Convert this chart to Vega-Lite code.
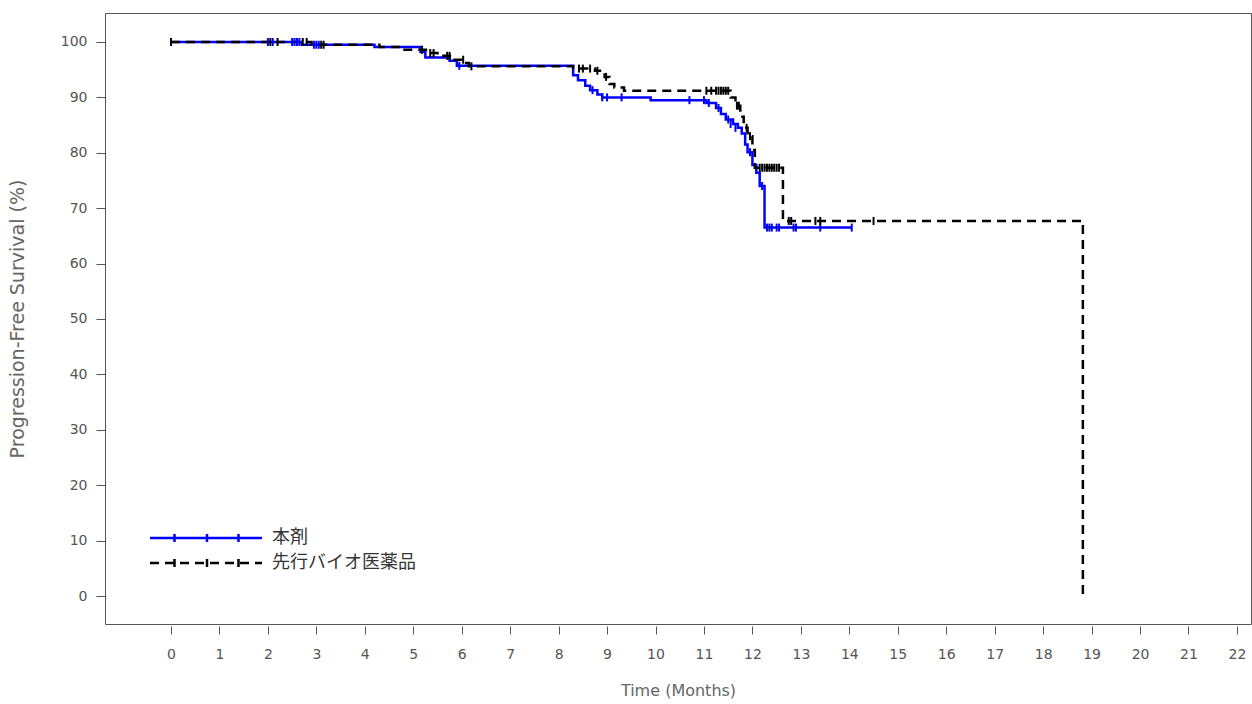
{
  "$schema": "https://vega.github.io/schema/vega-lite/v6.json",
  "width": 1146,
  "height": 611,
  "autosize": "none",
  "padding": {"left": 105, "top": 13, "right": 1, "bottom": 80},
  "background": "white",
  "config": {
    "view": {"stroke": "#555555", "strokeWidth": 1},
    "axis": {"grid": false, "domain": false, "tickColor": "#555555", "labelColor": "#555555", "titleColor": "#666666", "titleFontWeight": "normal"}
  },
  "datasets": {
    "steps": [
      {"group": "本剤", "t": 0, "s": 100},
      {"group": "本剤", "t": 2.7, "s": 99.5},
      {"group": "本剤", "t": 4.2, "s": 99.1},
      {"group": "本剤", "t": 5.15, "s": 98.2},
      {"group": "本剤", "t": 5.25, "s": 97.2},
      {"group": "本剤", "t": 5.75, "s": 96.6},
      {"group": "本剤", "t": 5.9, "s": 95.7},
      {"group": "本剤", "t": 8.3, "s": 94.0},
      {"group": "本剤", "t": 8.4, "s": 93.1},
      {"group": "本剤", "t": 8.55, "s": 92.1},
      {"group": "本剤", "t": 8.65, "s": 91.3},
      {"group": "本剤", "t": 8.8, "s": 90.5},
      {"group": "本剤", "t": 8.9, "s": 90.0},
      {"group": "本剤", "t": 9.9, "s": 89.5},
      {"group": "本剤", "t": 11.05, "s": 89.0},
      {"group": "本剤", "t": 11.25, "s": 88.1},
      {"group": "本剤", "t": 11.35, "s": 87.0},
      {"group": "本剤", "t": 11.45, "s": 86.0},
      {"group": "本剤", "t": 11.6, "s": 85.2},
      {"group": "本剤", "t": 11.7, "s": 84.5},
      {"group": "本剤", "t": 11.78, "s": 83.5},
      {"group": "本剤", "t": 11.85, "s": 81.5},
      {"group": "本剤", "t": 11.9, "s": 80.1},
      {"group": "本剤", "t": 12.0, "s": 77.8},
      {"group": "本剤", "t": 12.08, "s": 76.4},
      {"group": "本剤", "t": 12.15, "s": 74.0},
      {"group": "本剤", "t": 12.25, "s": 66.5},
      {"group": "本剤", "t": 14.05, "s": 66.5},
      {"group": "先行バイオ医薬品", "t": 0, "s": 100},
      {"group": "先行バイオ医薬品", "t": 2.9, "s": 99.5},
      {"group": "先行バイオ医薬品", "t": 4.3, "s": 99.1},
      {"group": "先行バイオ医薬品", "t": 4.75, "s": 98.6},
      {"group": "先行バイオ医薬品", "t": 5.3, "s": 98.0},
      {"group": "先行バイオ医薬品", "t": 5.5, "s": 97.5},
      {"group": "先行バイオ医薬品", "t": 5.8, "s": 96.8},
      {"group": "先行バイオ医薬品", "t": 6.0, "s": 96.2},
      {"group": "先行バイオ医薬品", "t": 6.15, "s": 95.6},
      {"group": "先行バイオ医薬品", "t": 8.3, "s": 95.2},
      {"group": "先行バイオ医薬品", "t": 8.75, "s": 94.8},
      {"group": "先行バイオ医薬品", "t": 8.95, "s": 93.7},
      {"group": "先行バイオ医薬品", "t": 9.05, "s": 92.4},
      {"group": "先行バイオ医薬品", "t": 9.15, "s": 91.8},
      {"group": "先行バイオ医薬品", "t": 9.35, "s": 91.2},
      {"group": "先行バイオ医薬品", "t": 11.55, "s": 90.0},
      {"group": "先行バイオ医薬品", "t": 11.65, "s": 88.5},
      {"group": "先行バイオ医薬品", "t": 11.75, "s": 86.5},
      {"group": "先行バイオ医薬品", "t": 11.82, "s": 84.5},
      {"group": "先行バイオ医薬品", "t": 11.9, "s": 83.0},
      {"group": "先行バイオ医薬品", "t": 12.0, "s": 80.5},
      {"group": "先行バイオ医薬品", "t": 12.05, "s": 77.3},
      {"group": "先行バイオ医薬品", "t": 12.63, "s": 67.7},
      {"group": "先行バイオ医薬品", "t": 18.82, "s": 67.7},
      {"group": "先行バイオ医薬品", "t": 18.82, "s": 0}
    ],
    "censors": [
      {"group": "本剤", "t": 2.0, "s": 100},
      {"group": "本剤", "t": 2.1, "s": 100},
      {"group": "本剤", "t": 2.5, "s": 100},
      {"group": "本剤", "t": 2.55, "s": 100},
      {"group": "本剤", "t": 2.6, "s": 100},
      {"group": "本剤", "t": 2.65, "s": 100},
      {"group": "本剤", "t": 2.95, "s": 99.5},
      {"group": "本剤", "t": 3.0, "s": 99.5},
      {"group": "本剤", "t": 3.05, "s": 99.5},
      {"group": "本剤", "t": 5.95, "s": 95.7},
      {"group": "本剤", "t": 8.7, "s": 91.3},
      {"group": "本剤", "t": 8.9, "s": 90.0},
      {"group": "本剤", "t": 9.0, "s": 90.0},
      {"group": "本剤", "t": 9.3, "s": 90.0},
      {"group": "本剤", "t": 10.7, "s": 89.5},
      {"group": "本剤", "t": 11.0, "s": 89.5},
      {"group": "本剤", "t": 11.1, "s": 89.0},
      {"group": "本剤", "t": 11.3, "s": 88.1},
      {"group": "本剤", "t": 11.5, "s": 86.0},
      {"group": "本剤", "t": 11.55, "s": 85.2},
      {"group": "本剤", "t": 11.65, "s": 84.5},
      {"group": "本剤", "t": 11.95, "s": 80.1},
      {"group": "本剤", "t": 12.2, "s": 74.0},
      {"group": "本剤", "t": 12.3, "s": 66.5},
      {"group": "本剤", "t": 12.35, "s": 66.5},
      {"group": "本剤", "t": 12.4, "s": 66.5},
      {"group": "本剤", "t": 12.5, "s": 66.5},
      {"group": "本剤", "t": 12.55, "s": 66.5},
      {"group": "本剤", "t": 12.85, "s": 66.5},
      {"group": "本剤", "t": 12.9, "s": 66.5},
      {"group": "本剤", "t": 13.4, "s": 66.5},
      {"group": "本剤", "t": 14.05, "s": 66.5},
      {"group": "先行バイオ医薬品", "t": 0, "s": 100},
      {"group": "先行バイオ医薬品", "t": 2.05, "s": 100},
      {"group": "先行バイオ医薬品", "t": 2.2, "s": 100},
      {"group": "先行バイオ医薬品", "t": 2.72, "s": 100},
      {"group": "先行バイオ医薬品", "t": 2.8, "s": 100},
      {"group": "先行バイオ医薬品", "t": 3.1, "s": 99.5},
      {"group": "先行バイオ医薬品", "t": 3.15, "s": 99.5},
      {"group": "先行バイオ医薬品", "t": 5.18, "s": 98.6},
      {"group": "先行バイオ医薬品", "t": 5.35, "s": 98.0},
      {"group": "先行バイオ医薬品", "t": 5.42, "s": 98.0},
      {"group": "先行バイオ医薬品", "t": 5.7, "s": 97.5},
      {"group": "先行バイオ医薬品", "t": 5.75, "s": 97.5},
      {"group": "先行バイオ医薬品", "t": 6.03, "s": 96.8},
      {"group": "先行バイオ医薬品", "t": 6.2, "s": 95.6},
      {"group": "先行バイオ医薬品", "t": 8.42, "s": 95.2},
      {"group": "先行バイオ医薬品", "t": 8.5, "s": 95.2},
      {"group": "先行バイオ医薬品", "t": 8.65, "s": 95.2},
      {"group": "先行バイオ医薬品", "t": 8.8, "s": 94.8},
      {"group": "先行バイオ医薬品", "t": 8.98, "s": 93.7},
      {"group": "先行バイオ医薬品", "t": 11.05, "s": 91.2},
      {"group": "先行バイオ医薬品", "t": 11.15, "s": 91.2},
      {"group": "先行バイオ医薬品", "t": 11.25, "s": 91.2},
      {"group": "先行バイオ医薬品", "t": 11.3, "s": 91.2},
      {"group": "先行バイオ医薬品", "t": 11.35, "s": 91.2},
      {"group": "先行バイオ医薬品", "t": 11.4, "s": 91.2},
      {"group": "先行バイオ医薬品", "t": 11.45, "s": 91.2},
      {"group": "先行バイオ医薬品", "t": 11.5, "s": 91.2},
      {"group": "先行バイオ医薬品", "t": 11.68, "s": 88.5},
      {"group": "先行バイオ医薬品", "t": 11.72, "s": 88.5},
      {"group": "先行バイオ医薬品", "t": 11.88, "s": 84.5},
      {"group": "先行バイオ医薬品", "t": 11.95, "s": 83.0},
      {"group": "先行バイオ医薬品", "t": 12.15, "s": 77.3},
      {"group": "先行バイオ医薬品", "t": 12.2, "s": 77.3},
      {"group": "先行バイオ医薬品", "t": 12.25, "s": 77.3},
      {"group": "先行バイオ医薬品", "t": 12.3, "s": 77.3},
      {"group": "先行バイオ医薬品", "t": 12.35, "s": 77.3},
      {"group": "先行バイオ医薬品", "t": 12.4, "s": 77.3},
      {"group": "先行バイオ医薬品", "t": 12.45, "s": 77.3},
      {"group": "先行バイオ医薬品", "t": 12.5, "s": 77.3},
      {"group": "先行バイオ医薬品", "t": 12.55, "s": 77.3},
      {"group": "先行バイオ医薬品", "t": 12.75, "s": 67.7},
      {"group": "先行バイオ医薬品", "t": 12.8, "s": 67.7},
      {"group": "先行バイオ医薬品", "t": 13.3, "s": 67.7},
      {"group": "先行バイオ医薬品", "t": 13.4, "s": 67.7},
      {"group": "先行バイオ医薬品", "t": 14.5, "s": 67.7}
    ]
  },
  "layer": [
    {
      "data": {"name": "steps"},
      "mark": {"type": "line", "interpolate": "step-after", "strokeWidth": 2.5, "clip": true},
      "encoding": {
        "x": {"field": "t", "type": "quantitative",
          "scale": {"domain": [-1.362, 22.29], "nice": false, "zero": false},
          "axis": {"values": [0,1,2,3,4,5,6,7,8,9,10,11,12,13,14,15,16,17,18,19,20,21,22],
            "title": "Time (Months)", "offset": 2, "tickSize": 8, "labelPadding": 13,
            "labelFont": "DejaVu Sans", "labelFontSize": 14, "titleFont": "DejaVu Sans", "titleFontSize": 16, "titlePadding": 21}},
        "y": {"field": "s", "type": "quantitative",
          "scale": {"domain": [-5.05, 105.23], "nice": false, "zero": false},
          "axis": {"values": [0,5,10,15,20,25,30,35,40,45,50,55,60,65,70,75,80,85,90,95,100],
            "labelExpr": "datum.value % 10 == 0 ? datum.label : ''",
            "title": "Progression-Free Survival (%)", "tickSize": 9, "labelPadding": 9,
            "labelFont": "DejaVu Sans", "labelFontSize": 14, "titleFont": "DejaVu Sans", "titleFontSize": 19, "titlePadding": 33}},
        "color": {"field": "group", "type": "nominal",
          "scale": {"domain": ["本剤", "先行バイオ医薬品"], "range": ["#0000ff", "#000000"]},
          "legend": {"orient": "none", "legendX": 41, "legendY": 516, "title": null,
            "symbolType": "M-1,0H21.4M3.9,-0.8V0.8M10.4,-0.8V0.8M16.7,-0.8V0.8",
            "symbolSize": 100, "symbolStrokeWidth": 2.5, "labelOffset": 108, "rowPadding": 7,
            "labelFont": "Noto Sans CJK JP", "labelFontSize": 18, "labelColor": "#333333"}},
        "strokeDash": {"field": "group", "type": "nominal",
          "scale": {"domain": ["本剤", "先行バイオ医薬品"], "range": [[1, 0], [9, 6]]},
          "legend": {"orient": "none", "legendX": 41, "legendY": 516, "title": null,
            "symbolType": "M-1,0H21.4M3.9,-0.8V0.8M10.4,-0.8V0.8M16.7,-0.8V0.8",
            "symbolSize": 100, "symbolStrokeWidth": 2.5, "labelOffset": 108, "rowPadding": 7,
            "labelFont": "Noto Sans CJK JP", "labelFontSize": 18, "labelColor": "#333333"}}
      }
    },
    {
      "data": {"name": "censors"},
      "mark": {"type": "point", "shape": "M0,-1V1", "filled": false, "size": 64, "strokeWidth": 2, "opacity": 1},
      "encoding": {
        "x": {"field": "t", "type": "quantitative"},
        "y": {"field": "s", "type": "quantitative"},
        "color": {"field": "group", "type": "nominal", "legend": null}
      }
    }
  ]
}
